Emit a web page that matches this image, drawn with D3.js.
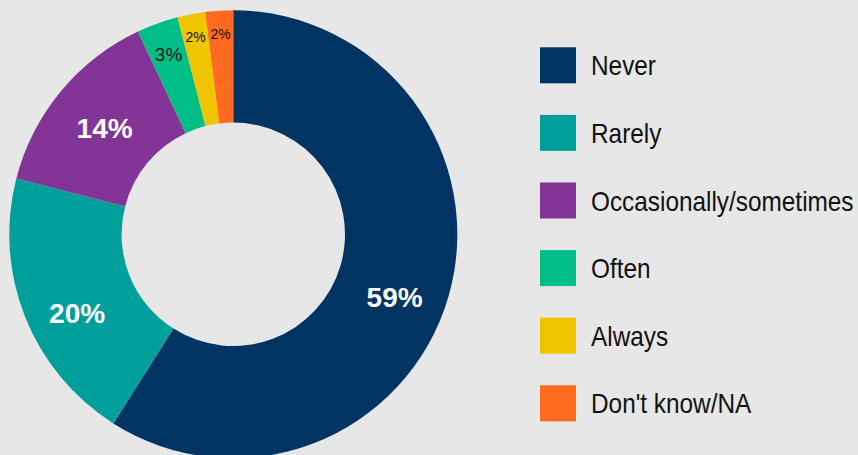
<!DOCTYPE html>
<html>
<head>
<meta charset="utf-8">
<script src="https://cdn.jsdelivr.net/npm/d3@7"></script>
<style>
  html, body { margin: 0; padding: 0; background: #e7e7e7; }
  svg { display: block; }
</style>
</head>
<body>
<div id="chart"></div>
<script>
// Chart data
const categories = ["Never", "Rarely", "Occasionally/sometimes", "Often", "Always", "Don't know/NA"];
const values = [59, 20, 14, 3, 2, 2];
const labels = ["59%", "20%", "14%", "3%", "2%", "2%"];
const colors = ["#003462", "#009f9b", "#823497", "#00be86", "#f1c400", "#ff6a1f"];

let width = 858,
    height = 455;

let cx = 233.3, cy = 234.3,
    outerR = 224, innerR = 111.7;

let svg = d3.select("#chart")
    .append("svg")
    .attr("width", width)
    .attr("height", height);

svg.append("rect")
    .attr("width", width)
    .attr("height", height)
    .attr("fill", "#e7e7e7");

let g = svg.append("g")
    .attr("transform", `translate(${cx}, ${cy})`);

let pie = d3.pie().sort(null).value(d => d);
let arcs = pie(values);

let arc = d3.arc().innerRadius(innerR).outerRadius(outerR);

g.selectAll("path")
    .data(arcs)
    .enter()
    .append("path")
    .attr("d", arc)
    .attr("fill", (d, i) => colors[i]);

// label placement (radius from center, vertical nudge) per slice
let labelRadius = [168, 168, 167, 191, 201, 201];
let labelDy = [16, 17, 0, 0, 0, 0];
let labelSize = [28, 28, 28, 19, 14, 14];
let labelBold = [true, true, true, false, false, false];
let labelColor = ["#fff", "#fff", "#fff", "#111", "#111", "#111"];

g.selectAll("text.pct")
    .data(arcs)
    .enter()
    .append("text")
    .attr("class", "pct")
    .attr("transform", (d, i) => {
        let c = d3.arc().innerRadius(labelRadius[i]).outerRadius(labelRadius[i]).centroid(d);
        return `translate(${c[0]}, ${c[1] + labelDy[i]})`;
    })
    .attr("text-anchor", "middle")
    .attr("dy", "0.36em")
    .style("font-family", "'Liberation Sans', Arial, Helvetica, sans-serif")
    .style("font-size", (d, i) => labelSize[i] + "px")
    .style("font-weight", (d, i) => labelBold[i] ? "bold" : "normal")
    .attr("fill", (d, i) => labelColor[i])
    .text((d, i) => labels[i]);

// Legend
let legendY = d3.scaleBand()
    .domain(categories)
    .range([31.5, 31.5 + 67.6 * categories.length]);

let legend = svg.append("g")
    .selectAll("g")
    .data(categories)
    .enter()
    .append("g")
    .attr("transform", d => `translate(540, ${legendY(d) + legendY.bandwidth() / 2})`);

legend.append("rect")
    .attr("x", 0)
    .attr("y", -18)
    .attr("width", 36)
    .attr("height", 36)
    .attr("fill", (d, i) => colors[i]);

// condensed look: Liberation Sans squeezed horizontally
legend.append("text")
    .attr("transform", "translate(51, 0) scale(0.87, 1)")
    .attr("dy", "0.36em")
    .style("font-family", "'Liberation Sans Narrow', 'Liberation Sans', Arial, sans-serif")
    .style("font-size", "28px")
    .attr("fill", "#111")
    .text(d => d);
</script>
</body>
</html>
